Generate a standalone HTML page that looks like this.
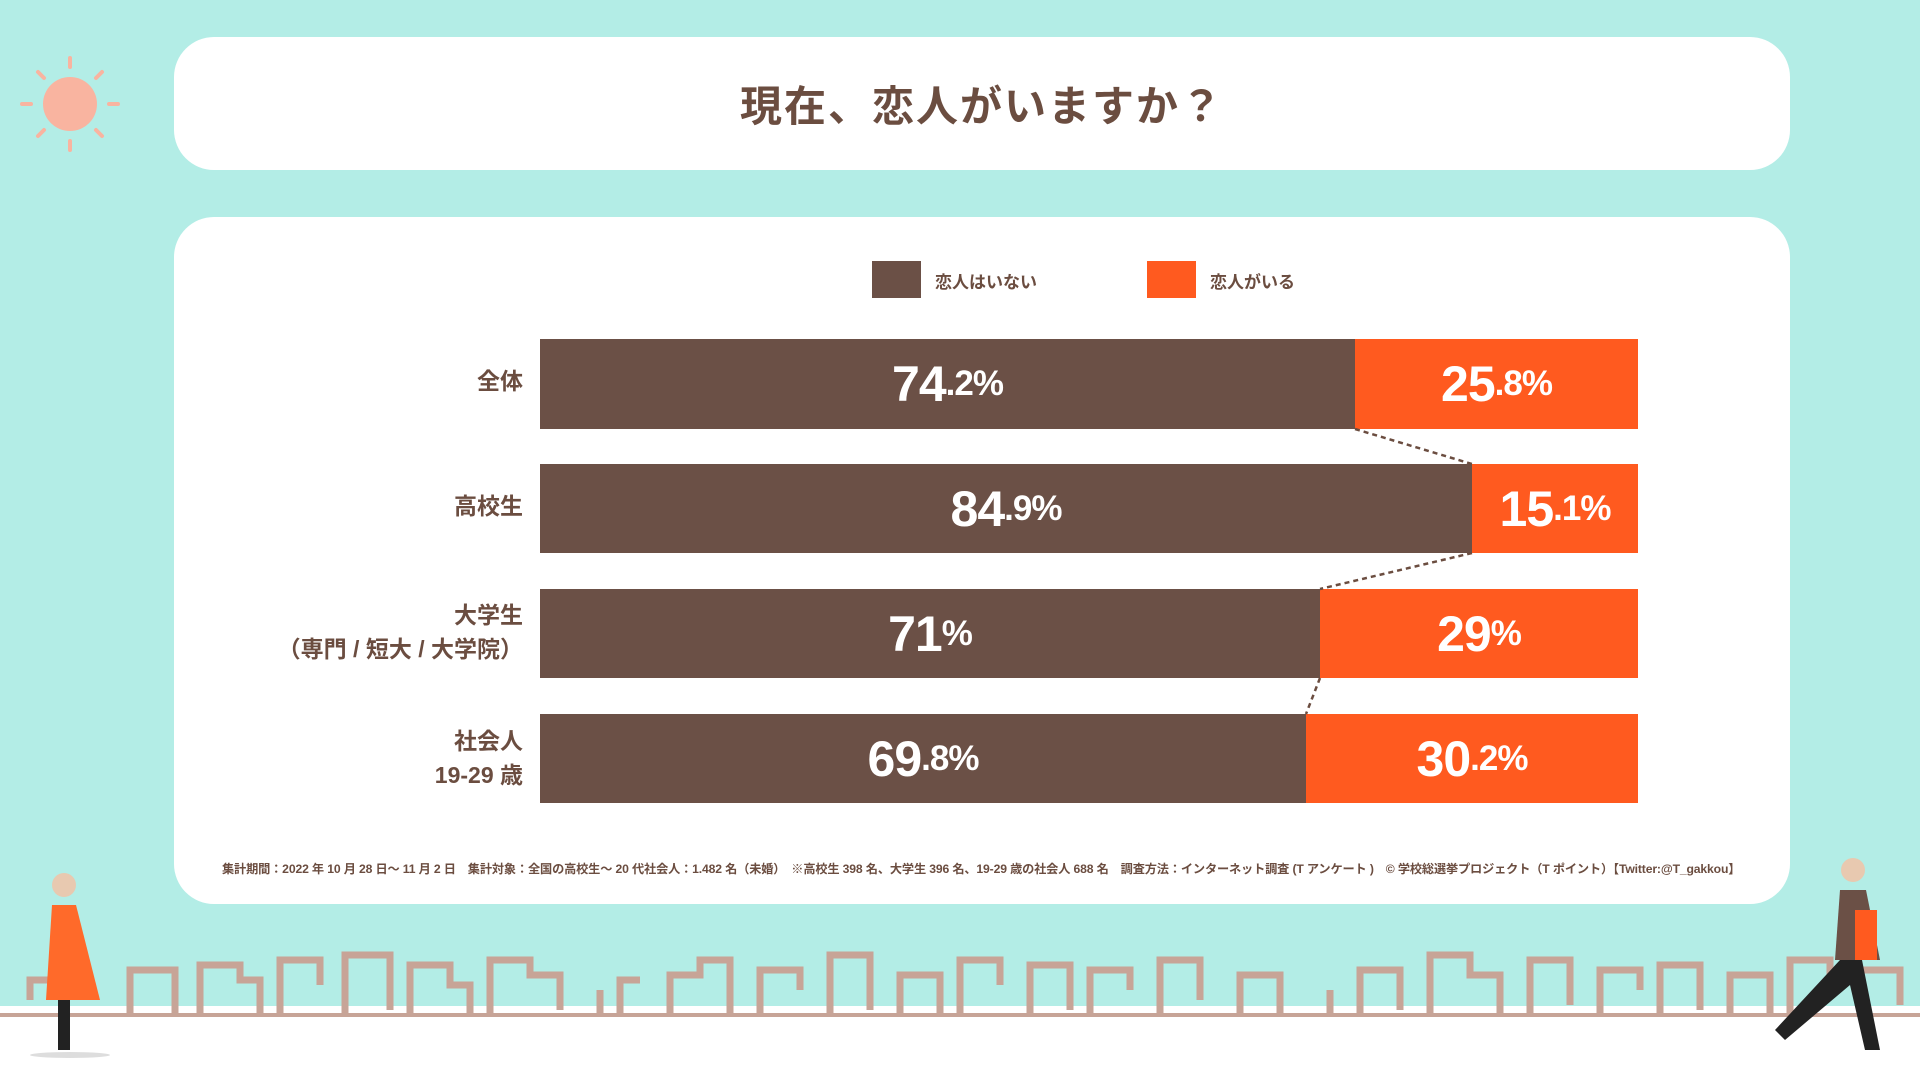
<!DOCTYPE html>
<html><head><meta charset="utf-8"><style>
*{margin:0;padding:0;box-sizing:border-box}
body{width:1920px;height:1080px;background:#b3ede6;position:relative;overflow:hidden;font-family:"Liberation Sans","Noto Sans CJK JP",sans-serif;color:#6b4d40;font-weight:bold}
.card{position:absolute;left:174px;width:1616px;background:#fff;border-radius:40px}
.title{top:37px;height:133px;display:flex;align-items:center;justify-content:center;font-size:42px;letter-spacing:2px}
.main{top:217px;height:687px}
.abs{position:absolute}
.lbl{position:absolute;right:1397px;text-align:right;font-size:23px;line-height:34px}
.seg{position:absolute;display:flex;align-items:center;justify-content:center;color:#fff;font-size:50px;letter-spacing:-1px}
.seg small{font-size:35px}
.d{background:#6b5046}.o{background:#ff5a1f}
</style></head><body>
<svg class="abs" style="left:0;top:40px" width="140" height="130">
<circle cx="70" cy="64" r="27" fill="#f9b4a0"/>
<g stroke="#f9b4a0" stroke-width="4" stroke-linecap="round">
<line x1="70" y1="18" x2="70" y2="27"/><line x1="70" y1="101" x2="70" y2="110"/>
<line x1="22" y1="64" x2="31" y2="64"/><line x1="109" y1="64" x2="118" y2="64"/>
<line x1="38" y1="32" x2="44" y2="38"/><line x1="96" y1="90" x2="102" y2="96"/>
<line x1="102" y1="32" x2="96" y2="38"/><line x1="44" y1="90" x2="38" y2="96"/>
</g></svg>
<div class="card title">現在、恋人がいますか？</div>
<div class="card main"></div>
<div class="abs" style="left:872px;top:261px;width:49px;height:37px;background:#6b5046"></div>
<div class="abs" style="left:935px;top:268px;font-size:17px">恋人はいない</div>
<div class="abs" style="left:1147px;top:261px;width:49px;height:37px;background:#ff5a1f"></div>
<div class="abs" style="left:1210px;top:268px;font-size:17px">恋人がいる</div>

<div class="lbl" style="top:364px">全体</div>
<div class="lbl" style="top:489px">高校生</div>
<div class="lbl" style="top:598px">大学生<br>（専門 / 短大 / 大学院）</div>
<div class="lbl" style="top:724px">社会人<br>19-29 歳</div>

<div class="seg d" style="left:540px;top:339px;width:815px;height:90px">74<small>.2%</small></div>
<div class="seg o" style="left:1355px;top:339px;width:283px;height:90px">25<small>.8%</small></div>
<div class="seg d" style="left:540px;top:464px;width:932px;height:89px">84<small>.9%</small></div>
<div class="seg o" style="left:1472px;top:464px;width:166px;height:89px">15<small>.1%</small></div>
<div class="seg d" style="left:540px;top:589px;width:780px;height:89px">71<small>%</small></div>
<div class="seg o" style="left:1320px;top:589px;width:318px;height:89px">29<small>%</small></div>
<div class="seg d" style="left:540px;top:714px;width:766px;height:89px">69<small>.8%</small></div>
<div class="seg o" style="left:1306px;top:714px;width:332px;height:89px">30<small>.2%</small></div>
<svg class="abs" style="left:0;top:0" width="1920" height="1080">
<g stroke="#6b4d40" stroke-width="2.5" stroke-dasharray="5,4">
<line x1="1355" y1="429" x2="1472" y2="464"/><line x1="1472" y1="553" x2="1320" y2="589"/><line x1="1320" y1="678" x2="1306" y2="714"/>
</g>
<rect x="0" y="1006" width="1920" height="74" fill="#fff"/>
<path d="M30 1000 V980 H60 M130 1015 V970 H175 V1015 M200 1015 V965 H240 V980 H260 V1015 M280 1015 V960 H320 V985 M345 1015 V955 H390 V1010 M410 1015 V965 H450 V985 H470 V1015 M490 1015 V960 H530 V975 H560 V1010 M600 1015 V990 M620 1015 V980 H640 M670 1015 V975 H700 V960 H730 V1015 M760 1015 V970 H800 V990 M830 1015 V955 H870 V1010 M900 1015 V975 H940 V1015 M960 1015 V960 H1000 V985 M1030 1015 V965 H1070 V1010 M1090 1015 V970 H1130 V990 M1160 1015 V960 H1200 V1000 M1240 1015 V975 H1280 V1015 M1330 1015 V990 M1360 1015 V970 H1400 V1010 M1430 1015 V955 H1470 V975 H1500 V1015 M1530 1015 V960 H1570 V1005 M1600 1015 V970 H1640 V990 M1660 1015 V965 H1700 V1010 M1730 1015 V975 H1770 V1015 M1790 1015 V960 H1830 V990 M1860 1015 V970 H1900 V1005" fill="none" stroke="#c7a497" stroke-width="7"/>
<line x1="0" y1="1015" x2="1920" y2="1015" stroke="#c7a497" stroke-width="4"/>
<g><circle cx="64" cy="885" r="12" fill="#e8c9b0"/><path d="M52 905 L76 905 L100 1000 L46 1000 Z" fill="#ff6a2a"/><rect x="58" y="1000" width="12" height="50" fill="#222"/><ellipse cx="70" cy="1055" rx="40" ry="3" fill="#ddd"/></g>
<g><circle cx="1853" cy="870" r="12" fill="#e8c9b0"/><path d="M1840 890 L1866 890 L1880 960 L1835 960 Z" fill="#6b5046"/><rect x="1855" y="910" width="22" height="50" fill="#ff5a1f"/><path d="M1840 960 L1862 960 L1880 1050 L1865 1050 L1850 985 L1785 1040 L1775 1030 Z" fill="#222"/></g>
</svg>
<div class="abs" style="left:222px;top:859px;font-size:12.2px;white-space:nowrap;letter-spacing:-0.15px">集計期間：2022 年 10 月 28 日～ 11 月 2 日　集計対象：全国の高校生～ 20 代社会人：1.482 名（未婚）　※高校生 398 名、大学生 396 名、19-29 歳の社会人 688 名　調査方法：インターネット調査 (T アンケート )　© 学校総選挙プロジェクト（T ポイント）【Twitter:@T_gakkou】</div>
</body></html>
